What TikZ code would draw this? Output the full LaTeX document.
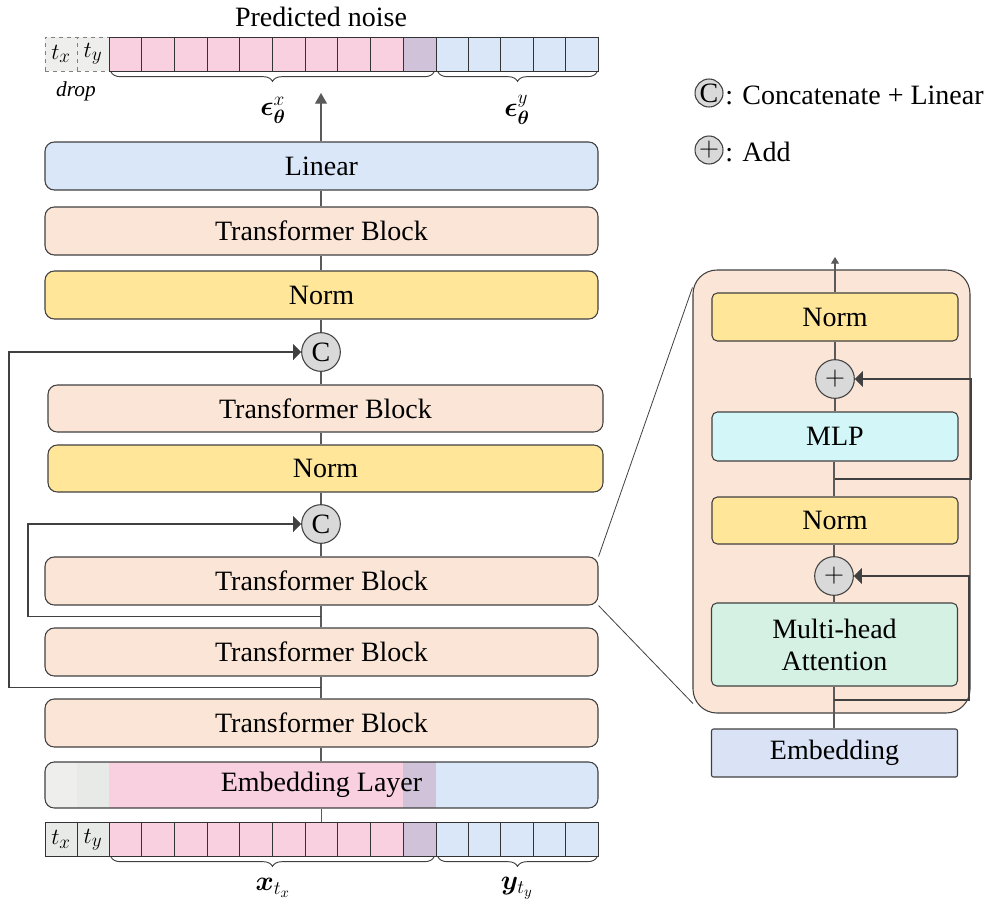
\documentclass[tikz,border=0pt]{standalone}
\usepackage{fontspec}
\setmainfont{Liberation Serif}
\usepackage{amsmath,bm}
\usetikzlibrary{arrows.meta,calc,decorations.pathreplacing}

\definecolor{linec}{HTML}{404040}
\definecolor{wirec}{HTML}{5A5A5A}
\definecolor{peach}{HTML}{FBE5D6}
\definecolor{normy}{HTML}{FFE699}
\definecolor{linb}{HTML}{DAE7F8}
\definecolor{pinkc}{HTML}{F9D0DF}
\definecolor{purpc}{HTML}{CFC2D9}
\definecolor{bluec}{HTML}{DAE7F8}
\definecolor{greya}{HTML}{EEEFED}
\definecolor{greyb}{HTML}{E8EAE7}
\definecolor{circc}{HTML}{D9D9D9}
\definecolor{mlpc}{HTML}{D3F7F8}
\definecolor{mhac}{HTML}{D4F1E4}
\definecolor{embc}{HTML}{DAE3F5}

\begin{document}
\begin{tikzpicture}[x=0.75pt,y=-0.75pt,
  font=\fontsize{21}{24}\selectfont,
  mainbox/.style={draw=linec,line width=0.8pt,rounded corners=7pt,
    minimum width=414.75pt,minimum height=36pt,inner sep=0pt},
  widebox/.style={mainbox,minimum width=416.25pt,minimum height=35.25pt},
  subbox/.style={draw=linec,line width=0.8pt,rounded corners=4pt,
    minimum width=184.5pt,minimum height=36pt,inner sep=0pt,align=center},
  opcirc/.style={circle,draw=linec,line width=0.8pt,fill=circc,
    minimum size=29pt,inner sep=0pt},
  legcirc/.style={opcirc,minimum size=21pt},
  cell/.style={draw=black!80,line width=0.7pt,minimum height=25.5pt,
    minimum width=24.5pt,inner sep=0pt},
  bcell/.style={cell,minimum width=24.3pt},
  tcell/.style={cell,minimum width=24pt,fill=greyb,font=\fontsize{19}{22}\selectfont},
  wire/.style={draw=wirec,line width=0.8pt},
  upar/.style={wire,-{Triangle[length=8pt,width=9pt]}},
  sidear/.style={wire,draw=linec,-{Triangle[length=6pt,width=12pt]}},
  brc/.style={draw=linec,line width=0.7pt,
    decorate,decoration={brace,amplitude=7pt}},
]
\useasboundingbox (0,0) rectangle (1005,915);

% ---------- top token row (predicted noise) ----------
\node at (321,17) {Predicted noise};
\node[tcell,dashed,draw=gray,fill=greya] (ttx) at (61,54) {$t_x$};
\node[tcell,dashed,draw=gray,fill=greya] (tty) at (93,54) {$t_y$};
\foreach \i in {1,...,9}
  \node[cell,fill=pinkc] (tp\i) at ({109+32.7*(\i-0.5)},54) {};
\node[cell,fill=purpc] (tp10) at ({109+32.7*9.5},54) {};
\foreach \j in {1,...,5}
  \node[bcell,fill=bluec] (tb\j) at ({436+32.4*(\j-0.5)},54) {};
\draw[brc] (434,72) -- (111,72);
\draw[brc] (597,72) -- (438,72);
\node[font=\fontsize{16}{18}\selectfont\itshape] (drop) at (76,91) {drop};
\node (epsx) at (273,110) {$\bm{\epsilon}_{\bm{\theta}}^{x}$};
\node (epsy) at (517,110) {$\bm{\epsilon}_{\bm{\theta}}^{y}$};

% ---------- main stack ----------
\node[mainbox,fill=linb]  (lin) at (321.5,166) {Linear};
\node[mainbox,fill=peach] (tbA) at (321.5,231) {Transformer Block};
\node[mainbox,fill=normy] (nA)  at (321.5,295) {Norm};
\node[opcirc] (c1) at (321,352) {C};
\node[widebox,fill=peach] (tbB) at (325.5,408.5) {Transformer Block};
\node[widebox,fill=normy] (nB)  at (325.5,468.5) {Norm};
\node[opcirc] (c2) at (321,524) {C};
\node[mainbox,fill=peach] (tbC) at (321.5,581) {Transformer Block};
\node[mainbox,fill=peach] (tbD) at (321.5,652) {Transformer Block};
\node[mainbox,fill=peach] (tbE) at (321.5,723) {Transformer Block};

% embedding layer with coloured token segments
\begin{scope}
  \clip[rounded corners=7pt] (45,762) rectangle (598,808);
  \fill[greya] (45,762) rectangle (77,808);
  \fill[greyb] (77,762) rectangle (109,808);
  \fill[pinkc] (109,762) rectangle (403,808);
  \fill[purpc] (403,762) rectangle (436,808);
  \fill[bluec] (436,762) rectangle (598,808);
\end{scope}
\node[mainbox,minimum height=34.5pt] (emb) at (321.5,785) {Embedding Layer};

% ---------- bottom token row (input) ----------
\node[tcell] (btx) at (61,839.5) {$t_x$};
\node[tcell] (bty) at (93,839.5) {$t_y$};
\foreach \i in {1,...,9}
  \node[cell,fill=pinkc] (bp\i) at ({109+32.7*(\i-0.5)},839.5) {};
\node[cell,fill=purpc] (bp10) at ({109+32.7*9.5},839.5) {};
\foreach \j in {1,...,5}
  \node[bcell,fill=bluec] (bb\j) at ({436+32.4*(\j-0.5)},839.5) {};
\draw[brc] (434,857) -- (111,857);
\draw[brc] (597,857) -- (438,857);
\node (xin) at (273,888) {$\bm{x}_{t_x}$};
\node (yin) at (517,888) {$\bm{y}_{t_y}$};

% ---------- main data path ----------
\coordinate (outtip) at (321,93);
\draw[wire] (bp7.north) -- (bp7.north |- emb.south);
\draw[wire] (emb.north -| c1) -- (tbE.south -| c1);
\draw[wire] (tbE.north -| c1) -- (tbD.south -| c1);
\draw[wire] (tbD.north -| c1) -- (tbC.south -| c1);
\draw[wire] (tbC.north -| c1) -- (c2.south);
\draw[wire] (c2.north) -- (nB.south -| c2);
\draw[wire] (nB.north -| c2) -- (tbB.south -| c2);
\draw[wire] (tbB.north -| c1) -- (c1.south);
\draw[wire] (c1.north) -- (nA.south -| c1);
\draw[wire] (nA.north -| c1) -- (tbA.south -| c1);
\draw[wire] (tbA.north -| c1) -- (lin.south -| c1);
\draw[upar] (lin.north -| c1) -- (outtip);

% skip connections into the concatenation nodes
\coordinate (skA) at ($(tbE.north -| c1)!0.5!(tbD.south -| c1)$);
\coordinate (skB) at ($(tbD.north -| c1)!0.5!(tbC.south -| c1)$);
\draw[sidear] (skA) -- (9,687.5) |- (c1.west);
\draw[sidear] (skB) -- (28,616.5) |- (c2.west);

% ---------- transformer block detail ----------
\node[draw=linec,line width=0.8pt,fill=peach,rounded corners=18pt,
  minimum width=207.75pt,minimum height=332.25pt] (panel) at (831.5,491.5) {};
\node[subbox,fill=normy] (rnB) at (835,317) {Norm};
\node[opcirc] (pB) at (835,379) {$+$};
\node[subbox,fill=mlpc,minimum height=36.75pt] (mlp) at (835,436.5) {MLP};
\node[subbox,fill=normy,minimum height=35.25pt] (rnA) at (835,520.5) {Norm};
\node[opcirc] (pA) at (834,576) {$+$};
\node[subbox,fill=mhac,minimum height=62.25pt] (mha) at (834.5,644.5) {Multi-head\\Attention};
\node[subbox,fill=embc,rounded corners=1.5pt] (remb) at (834.5,753) {Embedding};

\coordinate (rtip) at (835,257);
\draw[wire] (remb.north -| pA) -- (mha.south -| pA);
\draw[wire] (mha.north -| pA) -- (pA.south);
\draw[wire] (pA.north) -- (rnA.south -| pA);
\draw[wire] (rnA.north -| pA) -- (mlp.south -| pA);
\draw[wire] (mlp.north -| pB) -- (pB.south);
\draw[wire] (pB.north) -- (rnB.south -| pB);
\draw[wire,-{Triangle[length=5pt,width=6pt]}] (rnB.north -| pB) -- (rtip);

\coordinate (rsA) at (834,700);
\coordinate (rsB) at (835,479);
\draw[sidear] (rsA) -- (969,700) |- (pA.east);
\draw[sidear] (rsB) -- (971,479) |- (pB.east);

% zoom guides from the highlighted block
\draw[linec,line width=0.6pt] (tbC.north east) -- ($(panel.north west)+(0,18)$);
\draw[linec,line width=0.6pt] (tbC.south east) -- ($(panel.south west)+(0.5,-10)$);

% ---------- legend ----------
\node[legcirc] (lc) at (709,93) {C};
\node[anchor=west,inner sep=0pt] (lct) at (725,95) {: Concatenate + Linear};
\node[legcirc] (lp) at (709,150) {$+$};
\node[anchor=west,inner sep=0pt] (lpt) at (725,152) {: Add};
\end{tikzpicture}
\end{document}
